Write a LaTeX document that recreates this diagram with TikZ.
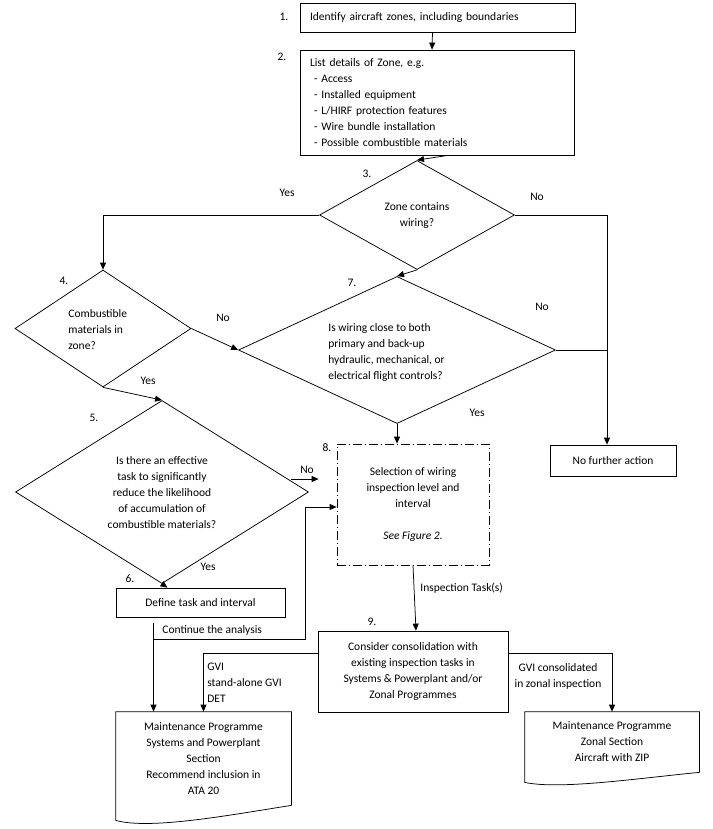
\documentclass[tikz,border=0pt]{standalone}
\usepackage{fontspec}
\setmainfont{Carlito}
\usetikzlibrary{arrows.meta,shapes.geometric}

\begin{document}
\begin{tikzpicture}[x=1pt,y=-1pt,>={Triangle[length=7pt,width=6pt]},line width=0.75pt,
	every node/.style={font=\fontsize{11.5}{16}\selectfont},
	box/.style={draw,rectangle,inner sep=0pt},
	decision/.style={draw,diamond,inner sep=0pt},
	doc/.style={rectangle,inner sep=0pt,align=center},
	num/.style={inner sep=0pt},
	tag/.style={inner sep=0pt}]
	
	\useasboundingbox (0,0) rectangle (712,829);
	
	% steps
	\node[box,minimum width=275pt,minimum height=29pt,text width=255pt,align=left] (n1) at (437.5,17.5) {Identify aircraft zones, including boundaries};
	\node[box,minimum width=274pt,minimum height=105pt,text width=254pt,align=left] (n2) at (437,102.5)
	{List details of Zone, e.g.\\
		\hspace*{4pt}-\ Access\\
		\hspace*{4pt}-\ Installed equipment\\
		\hspace*{4pt}-\ L/HIRF protection features\\
		\hspace*{4pt}-\ Wire bundle installation\\
		\hspace*{4pt}-\ Possible combustible materials};
	\node[decision,minimum width=195pt,minimum height=109pt] (d3) at (417,215) {};
	\node[tag,align=center] (t3) at (417,216) {Zone contains\\wiring?};
	\node[decision,minimum width=176pt,minimum height=117pt] (d4) at (103,328.5) {};
	\node[tag,align=left,anchor=west] (t4) at (68,330) {Combustible\\materials in\\zone?};
	\node[decision,minimum width=293pt,minimum height=183pt] (d5) at (162,492) {};
	\node[tag,align=center] (t5) at (162,493) {Is there an effective\\task to significantly\\reduce the likelihood\\of accumulation of\\combustible materials?};
	\node[decision,minimum width=317pt,minimum height=147pt] (d7) at (397,350) {};
	\node[tag,align=left,anchor=west] (t7) at (328,352) {Is wiring close to both\\primary and back-up\\hydraulic, mechanical, or\\electrical flight controls?};
	\node[box,minimum width=169pt,minimum height=29pt] (n6) at (200.5,602.5) {Define task and interval};
	\node[draw,rectangle,inner sep=0pt,dash pattern=on 9pt off 3pt on 1pt off 3pt,minimum width=152pt,minimum height=121pt,align=center] (n8) at (413,504.5)
	{Selection of wiring\\inspection level and\\interval\\[16pt]\textit{See Figure 2.}};
	\node[box,minimum width=190pt,minimum height=81pt,align=center] (n9) at (413,671.5)
	{Consider consolidation with\\existing inspection tasks in\\Systems \& Powerplant and/or\\Zonal Programmes};
	\node[box,minimum width=126pt,minimum height=31pt] (nfa) at (613,460.5) {No further action};
	\node[doc,minimum width=175pt,minimum height=93pt] (m1) at (203.5,758.5)
	{Maintenance Programme\\Systems and Powerplant\\Section\\Recommend inclusion in\\ATA 20};
	\node[doc,minimum width=174pt,minimum height=60pt] (m2) at (612,742) {Maintenance Programme\\Zonal Section\\Aircraft with ZIP};
	\draw (m1.south east) -- (m1.north east) -- (m1.north west) -- ([yshift=-15pt]m1.south west)
	.. controls (150,830) and (230,815) .. (m1.south east);
	\draw (m2.south east) -- (m2.north east) -- (m2.north west) -- ([yshift=-10pt]m2.south west)
	.. controls (560,790) and (640,778) .. (m2.south east);
	
	% step numbers
	\node[num] (l1) at (284,17) {1.};
	\node[num] (l2) at (282,57) {2.};
	\node[num] (l3) at (367,174) {3.};
	\node[num] (l4) at (64,281) {4.};
	\node[num] (l5) at (94,418) {5.};
	\node[num] (l6) at (130,579) {6.};
	\node[num] (l7) at (352,283) {7.};
	\node[num] (l8) at (327,448) {8.};
	\node[num] (l9) at (372,622) {9.};
	
	% connectors
	\coordinate (r) at (607,215);
	\coordinate (c2) at (305,507);
	\coordinate (c3) at (153,639);
	\draw[->] ([xshift=-5pt]n1.south) -- ([xshift=-5pt]n2.north);
	\draw[->] ([xshift=11pt]n2.south) -- (d3.north);
	\draw[->] (d3.west) -| (d4.north);
	\draw[->] (d3.east) -- (r) -- (r |- nfa.north);
	\draw[->] (d3.south) -- (d7.north);
	\draw (d7.east) -- (d7.east -| r);
	\draw[->] (d7.south) -- (d7.south |- n8.north);
	\draw[->] (d4.east) -- (d7.west);
	\draw[->] (d4.south) -- (d5.north);
	\draw[->] ([xshift=-18pt,yshift=13pt]d5.east) -- ([xshift=-18pt,yshift=13pt]d5.east -| n8.west);
	\draw[->] (d5.south) -- ([xshift=-33pt]n6.north);
	\draw[->] ([xshift=-47pt,yshift=-6pt]n6.south) -- ([xshift=-50pt]m1.north);
	\draw[->] (c3) -| (c2) -- (c2 -| n8.west);
	\draw[->] (n8.south) -- ([xshift=3pt]n9.north);
	\draw[->] ([yshift=18.5pt]n9.west) -| (m1.north);
	\draw[->] ([yshift=18.5pt]n9.east) -| (m2.north);
	
	% connector labels
	\node[tag] (y3) at (287,193) {Yes};
	\node[tag] (o3) at (537,197) {No};
	\node[tag] (o7) at (542,307) {No};
	\node[tag] (y7) at (477,413) {Yes};
	\node[tag] (o4) at (223,318) {No};
	\node[tag] (y4) at (148,381) {Yes};
	\node[tag] (o5) at (307,470) {No};
	\node[tag] (y5) at (208,567) {Yes};
	\node[tag,anchor=west] (ca) at (162,630) {Continue the analysis};
	\node[tag,anchor=west] (it) at (420,588) {Inspection Task(s)};
	\node[tag,anchor=west,align=left] (gv) at (207,683) {GVI\\stand-alone GVI\\DET};
	\node[tag,align=center] (gz) at (558,676) {GVI consolidated\\in zonal inspection};
	
\end{tikzpicture}
\end{document}
